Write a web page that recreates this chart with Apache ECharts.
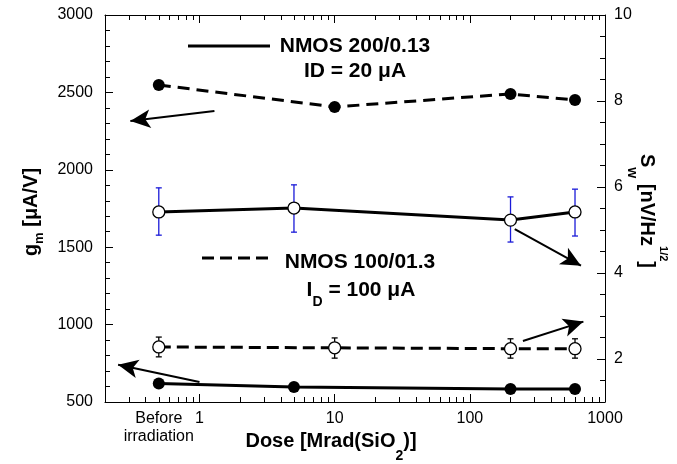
<!DOCTYPE html>
<html>
<head>
<meta charset="utf-8">
<script src="https://cdn.jsdelivr.net/npm/echarts@6/dist/echarts.min.js"></script>
<style>
  html, body { margin: 0; padding: 0; background: #fff; }
  #chart { width: 677px; height: 464px; }
</style>
</head>
<body>
<div id="chart"></div>
<script>
const FONT = "'Liberation Sans', Arial, sans-serif";
const TICK = '#000';

// dose [Mrad], "Before irradiation" sits at 0.5
const doseA = [0.5, 10, 200, 600];
const doseB = [0.5, 5, 200, 600];

// gm [uA/V] (left axis)
const gmDashed = [2548, 2406, 2490, 2451];
const gmSolid = [620, 597, 584, 584];

// Sw [nV/Hz^1/2] (right axis)
const swSolid = [5.42, 5.51, 5.23, 5.42];
const swSolidLow = [4.88, 4.95, 4.72, 4.86];
const swSolidHigh = [5.98, 6.05, 5.77, 5.95];
const swDashed = [2.28, 2.26, 2.24, 2.24];
const swDashedLow = [2.05, 2.02, 2.02, 2.02];
const swDashedHigh = [2.51, 2.49, 2.47, 2.47];

// ticks / labels
const xMajor = [1, 10, 100, 1000];
const xMinor = [0.3, 0.4, 0.5, 0.6, 0.7, 0.8, 0.9,
  2, 3, 4, 5, 6, 7, 8, 9,
  20, 30, 40, 50, 60, 70, 80, 90,
  200, 300, 400, 500, 600, 700, 800, 900];
const xLabels = [0.5, 1, 10, 100, 1000];
const yRightLabels = [2, 4, 6, 8, 10];

// arrows [from, to] in data coords
const gmArrows = [[[1.29, 2380], [0.308, 2315]], [[1.0, 629], [0.25, 740]]];
const swArrows = [[[215, 5.02], [664, 4.17]], [[247, 2.42], [692, 2.87]]];

function zip(xs, ys) { return xs.map((x, i) => [x, ys[i]]); }
function zip3(xs, lo, hi) { return xs.map((x, i) => [x, lo[i], hi[i]]); }

function errorBars(color) {
  return function (params, api) {
    const x = api.value(0);
    const lo = api.coord([x, api.value(1)]);
    const hi = api.coord([x, api.value(2)]);
    const w = 3;
    const st = { stroke: color, lineWidth: 1.3 };
    return {
      type: 'group',
      children: [
        { type: 'line', shape: { x1: lo[0], y1: lo[1], x2: hi[0], y2: hi[1] }, style: st },
        { type: 'line', shape: { x1: lo[0] - w, y1: lo[1], x2: lo[0] + w, y2: lo[1] }, style: st },
        { type: 'line', shape: { x1: hi[0] - w, y1: hi[1], x2: hi[0] + w, y2: hi[1] }, style: st }
      ]
    };
  };
}

function arrows(list) {
  return {
    silent: true,
    symbol: ['none', 'arrow'],
    symbolSize: [14, 20],
    lineStyle: { color: '#000', width: 2, type: 'solid' },
    label: { show: false },
    data: list.map(a => [{ coord: a[0] }, { coord: a[1] }])
  };
}

const chart = echarts.init(document.getElementById('chart'));

const logAxis = {
  type: 'log',
  min: 0.2,
  max: 1000,
  splitLine: { show: false },
  axisLine: { show: false },
  axisLabel: { show: false },
  axisTick: { show: false }
};

const option = {
  animation: false,
  backgroundColor: '#fff',
  textStyle: { fontFamily: FONT },
  grid: { left: 105, right: 72, top: 15, bottom: 62 },
  xAxis: [
    Object.assign({}, logAxis, {
      position: 'bottom',
      axisLine: { show: true, onZero: false, lineStyle: { color: '#000', width: 1 } },
      axisTick: { show: true, inside: true, length: 8, customValues: xMajor, lineStyle: { color: TICK } },
      axisLabel: {
        show: true, customValues: xLabels, color: '#000', fontSize: 16, fontFamily: FONT,
        margin: 8, lineHeight: 18,
        formatter: v => Math.abs(v - 0.5) < 1e-6 ? 'Before\nirradiation' : String(Math.round(v))
      }
    }),
    Object.assign({}, logAxis, {
      position: 'bottom',
      axisTick: { show: true, inside: true, length: 5, customValues: xMinor, lineStyle: { color: TICK } }
    }),
    Object.assign({}, logAxis, {
      position: 'top',
      axisLine: { show: true, onZero: false, lineStyle: { color: '#000', width: 1 } },
      axisTick: { show: true, inside: true, length: 8, customValues: xMajor, lineStyle: { color: TICK } }
    }),
    Object.assign({}, logAxis, {
      position: 'top',
      axisTick: { show: true, inside: true, length: 5, customValues: xMinor, lineStyle: { color: TICK } }
    })
  ],
  yAxis: [
    {
      type: 'value', position: 'left', min: 500, max: 3000, interval: 500,
      splitLine: { show: false },
      axisLine: { show: true, lineStyle: { color: '#000', width: 1 } },
      axisTick: { show: true, inside: true, length: 8, lineStyle: { color: TICK } },
      minorTick: { show: true, splitNumber: 5, length: 5, lineStyle: { color: TICK } },
      axisLabel: { color: '#000', fontSize: 16, fontFamily: FONT, margin: 12, formatter: v => String(v) }
    },
    {
      type: 'value', position: 'right', min: 1, max: 10,
      splitLine: { show: false },
      axisLine: { show: true, lineStyle: { color: '#000', width: 1 } },
      axisTick: { show: true, inside: true, length: 8, customValues: yRightLabels, lineStyle: { color: TICK } },
      axisLabel: { color: '#000', fontSize: 16, fontFamily: FONT, margin: 9, customValues: yRightLabels }
    },
    {
      type: 'value', position: 'right', min: 1, max: 10, interval: 0.5,
      splitLine: { show: false },
      axisLine: { show: false },
      axisTick: { show: true, inside: true, length: 5, lineStyle: { color: TICK } },
      axisLabel: { show: false }
    }
  ],
  series: [
    {
      type: 'custom', xAxisIndex: 0, yAxisIndex: 1, z: 1, silent: true,
      renderItem: errorBars('#1a1ad8'),
      encode: { x: 0, y: [1, 2] },
      data: zip3(doseB, swSolidLow, swSolidHigh)
    },
    {
      type: 'custom', xAxisIndex: 0, yAxisIndex: 1, z: 1, silent: true,
      renderItem: errorBars('#000'),
      encode: { x: 0, y: [1, 2] },
      data: zip3(doseA, swDashedLow, swDashedHigh)
    },
    {
      name: 'gm 200/0.13', type: 'line', xAxisIndex: 0, yAxisIndex: 0, z: 3,
      data: zip(doseA, gmDashed),
      symbol: 'circle', symbolSize: 12,
      itemStyle: { color: '#000' },
      lineStyle: { color: '#000', width: 3, type: [12, 7] }
    },
    {
      name: 'Sw 200/0.13', type: 'line', xAxisIndex: 0, yAxisIndex: 1, z: 3,
      data: zip(doseB, swSolid),
      symbol: 'circle', symbolSize: 12,
      itemStyle: { color: '#fff', borderColor: '#000', borderWidth: 1.3 },
      lineStyle: { color: '#000', width: 3 },
      markLine: arrows(swArrows)
    },
    {
      name: 'Sw 100/01.3', type: 'line', xAxisIndex: 0, yAxisIndex: 1, z: 3,
      data: zip(doseA, swDashed),
      symbol: 'circle', symbolSize: 12,
      itemStyle: { color: '#fff', borderColor: '#000', borderWidth: 1.3 },
      lineStyle: { color: '#000', width: 3, type: [12, 6] }
    },
    {
      name: 'gm 100/01.3', type: 'line', xAxisIndex: 0, yAxisIndex: 0, z: 3,
      data: zip(doseB, gmSolid),
      symbol: 'circle', symbolSize: 12,
      itemStyle: { color: '#000' },
      lineStyle: { color: '#000', width: 3 },
      markLine: arrows(gmArrows)
    }
  ],
  graphic: [
    // legend block 1
    { type: 'line', shape: { x1: 188, y1: 46, x2: 270, y2: 46 }, style: { stroke: '#000', lineWidth: 3 } },
    {
      type: 'text', x: 355, y: 46,
      style: { text: 'NMOS 200/0.13', fontSize: 21, fontWeight: 'bold', fontFamily: FONT, fill: '#000',
        align: 'center', verticalAlign: 'middle', textAlign: 'center', textVerticalAlign: 'middle' }
    },
    {
      type: 'text', x: 355, y: 71,
      style: { text: 'ID = 20 μA', fontSize: 21, fontWeight: 'bold', fontFamily: FONT, fill: '#000',
        align: 'center', verticalAlign: 'middle', textAlign: 'center', textVerticalAlign: 'middle' }
    },
    // legend block 2
    { type: 'line', shape: { x1: 202, y1: 258, x2: 270, y2: 258 }, style: { stroke: '#000', lineWidth: 3, lineDash: [12, 6] } },
    {
      type: 'text', x: 360, y: 262,
      style: { text: 'NMOS 100/01.3', fontSize: 21, fontWeight: 'bold', fontFamily: FONT, fill: '#000',
        align: 'center', verticalAlign: 'middle', textAlign: 'center', textVerticalAlign: 'middle' }
    },
    {
      type: 'text', x: 361, y: 290,
      style: {
        text: '{a|I}{s|D}{a| = 100 μA}', fill: '#000',
        align: 'center', verticalAlign: 'middle', textAlign: 'center', textVerticalAlign: 'middle',
        rich: {
          a: { fontSize: 21, fontWeight: 'bold', fontFamily: FONT, lineHeight: 39 },
          s: { fontSize: 14, fontWeight: 'bold', fontFamily: FONT, lineHeight: 14, verticalAlign: 'bottom' }
        }
      }
    },
    // left axis title
    {
      type: 'text', x: 31, y: 212, rotation: Math.PI / 2,
      style: {
        text: '{a|g}{s|m}{a| [μA/V]}', fill: '#000',
        align: 'center', verticalAlign: 'middle', textAlign: 'center', textVerticalAlign: 'middle',
        rich: {
          a: { fontSize: 20, fontWeight: 'bold', fontFamily: FONT, lineHeight: 30 },
          s: { fontSize: 13, fontWeight: 'bold', fontFamily: FONT, lineHeight: 16, verticalAlign: 'bottom' }
        }
      }
    },
    // right axis title
    {
      type: 'text', x: 647, y: 211, rotation: -Math.PI / 2,
      style: {
        text: '{a|S}{s|w}{a| [nV/Hz}{p|1/2}{a|]}', fill: '#000',
        align: 'center', verticalAlign: 'middle', textAlign: 'center', textVerticalAlign: 'middle',
        rich: {
          a: { fontSize: 20, fontWeight: 'bold', fontFamily: FONT, lineHeight: 44 },
          s: { fontSize: 14, fontWeight: 'bold', fontFamily: FONT, lineHeight: 14, verticalAlign: 'bottom' },
          p: { fontSize: 11, fontWeight: 'bold', fontFamily: FONT, lineHeight: 26, verticalAlign: 'top' }
        }
      }
    },
    // x axis title
    {
      type: 'text', x: 331, y: 441,
      style: {
        text: '{a|Dose [Mrad(SiO}{s|2}{a|)]}', fill: '#000',
        align: 'center', verticalAlign: 'middle', textAlign: 'center', textVerticalAlign: 'middle',
        rich: {
          a: { fontSize: 20, fontWeight: 'bold', fontFamily: FONT, lineHeight: 44 },
          s: { fontSize: 14, fontWeight: 'bold', fontFamily: FONT, lineHeight: 14, verticalAlign: 'bottom' }
        }
      }
    }
  ]
};

chart.setOption(option);
</script>
</body>
</html>
